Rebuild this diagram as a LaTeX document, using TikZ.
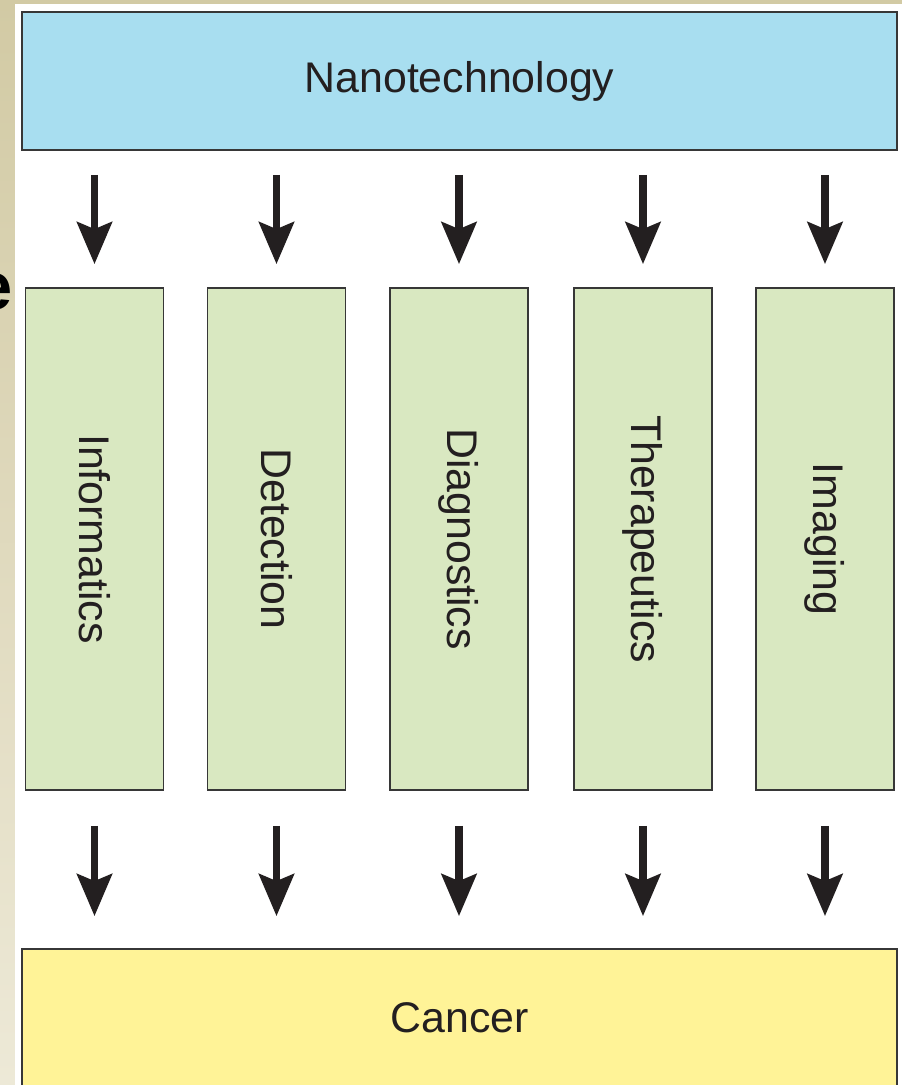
\documentclass[tikz,border=0pt]{standalone}
\usepackage{fontspec}
\setmainfont{Liberation Sans}
\usepackage{graphicx}
\usetikzlibrary{arrows.meta, positioning}

\definecolor{nanoblue}{RGB}{168,222,240}
\definecolor{fieldgreen}{RGB}{217,232,193}
\definecolor{canceryellow}{RGB}{255,243,151}
\definecolor{slidetan}{RGB}{210,202,164}
\definecolor{slidecream}{RGB}{237,233,215}
\definecolor{edgegray}{RGB}{55,55,55}
\definecolor{inkblack}{RGB}{35,31,32}

\begin{document}
\begin{tikzpicture}[x=0.02cm, y=-0.02cm,
  techbox/.style={rectangle,draw=edgegray,fill=nanoblue,line width=1.1pt, minimum width=17.5cm,minimum height=2.76cm,font=\fontsize{24.4}{29}\selectfont,text=inkblack},
  fieldbox/.style={rectangle,draw=edgegray,fill=fieldgreen,line width=1.1pt, minimum width=2.76cm,minimum height=10.04cm,font=\fontsize{24.4}{29}\selectfont,text=inkblack,inner sep=0pt},
  targetbox/.style={techbox,fill=canceryellow},
  arr/.style={-{Stealth[length=0.84cm,width=0.7cm,inset=0.14cm]},line width=4pt,draw=inkblack}
]
  \useasboundingbox (0,0) rectangle (902,1085);
  \clip (0,0) rectangle (902,1085);
  % slide background
  \shade[top color=slidetan, bottom color=slidecream] (0,0) rectangle (15,1085);
  \fill[slidetan] (0,0) rectangle (902,4);
  \fill[white] (15,4) rectangle (902,1085);
  \node[font=\fontsize{38}{40}\selectfont\bfseries, anchor=east, inner sep=0pt] (frag) at (13,292) {e};

  \node[techbox] (nano) at (459.5,81) {Nanotechnology};
  \node[targetbox] (cancer) at (459.5,1018) {Cancer};
  \foreach \n/\x/\t in {info/94.5/Informatics, detect/276.5/Detection, diag/459/Diagnostics, thera/643/Therapeutics, imag/825/Imaging}{
    \node[fieldbox] (\n) at (\x,539) {\rotatebox{-90}{\t}};
  }

  \foreach \n in {info,detect,diag,thera,imag}{
    \draw[arr, shorten <=0.48cm, shorten >=0.46cm] (nano.south -| \n.north) -- (\n.north);
    \draw[arr, shorten <=0.7cm, shorten >=0.64cm] (\n.south) -- (cancer.north -| \n.south);
  }
\end{tikzpicture}
\end{document}
